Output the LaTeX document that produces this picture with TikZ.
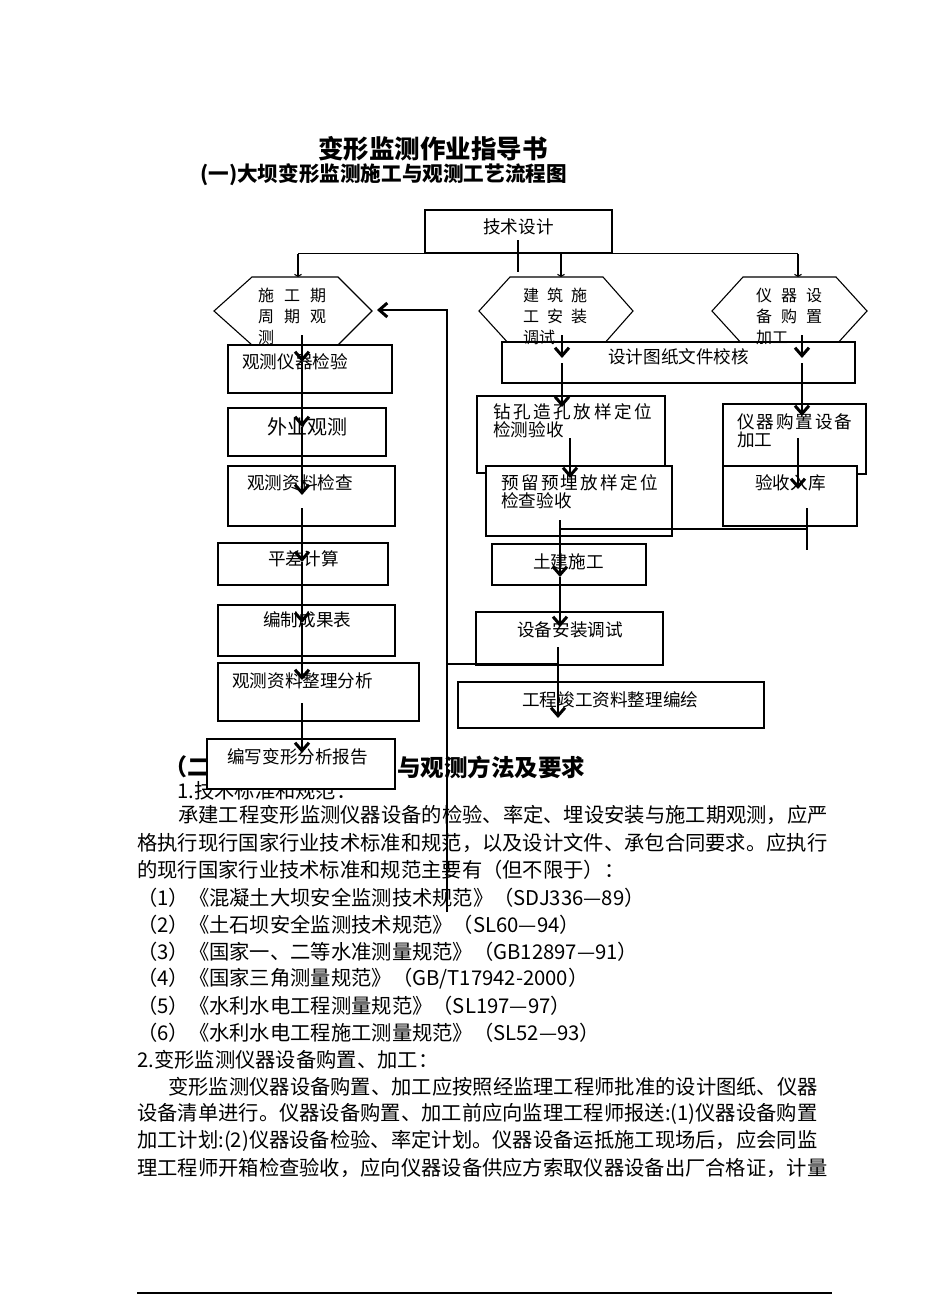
\documentclass[tikz,border=0pt]{standalone}
\usepackage{fontspec}
\setmainfont{Noto Sans CJK SC}
\usetikzlibrary{arrows.meta}

\tikzset{
  box/.style={draw, fill=white, line width=1.1pt, inner sep=0},
  hexa/.style={draw, fill=white, line width=1.1pt},
  lbl/.style={anchor=west, inner sep=0, font=\fontsize{17.6}{18}\selectfont},
  lbl2/.style={anchor=north west, inner sep=0, align=left, font=\fontsize{17.6}{18}\selectfont},
  hexlbl/.style={anchor=north west, inner sep=0, align=left, font=\fontsize{16}{21}\selectfont},
  body/.style={anchor=west, inner sep=0, font=\fontsize{20.3}{27}\selectfont},
  link/.style={line width=1.1pt},
  flow/.style={line width=1.1pt, -{Straight Barb[length=8pt,width=14pt,line width=3pt]}},
  tinyflow/.style={line width=1.1pt, -{Straight Barb[length=2pt,width=7pt]}},
}

\begin{document}
\begin{tikzpicture}[x=1pt,y=-1pt]
  \fill[white] (0,0) rectangle (950,1316);
  \useasboundingbox (0,0) rectangle (950,1316);

  % headings
  \node[inner sep=0, font=\bfseries\fontsize{25.5}{26}\selectfont] (title) at (433,149) {变形监测作业指导书};
  \node[anchor=west, inner sep=0, font=\bfseries\fontsize{20.6}{21}\selectfont] (subtitle) at (200,175) {(一)大坝变形监测施工与观测工艺流程图};

  % text of section two, partly hidden by the last box
  \node[anchor=west, inner sep=0, font=\bfseries\fontsize{23}{24}\selectfont] (h2a) at (164,767) {（二};
  \node[anchor=west, inner sep=0, font=\bfseries\fontsize{23.5}{24}\selectfont] (h2b) at (397,767) {与观测方法及要求};
  \node[body] (t0) at (177,791) {1.技术标准和规范：};
  \node[body] (t1) at (178,815) {承建工程变形监测仪器设备的检验、率定、埋设安装与施工期观测，应严};
  \node[body] (t2) at (137,843) {格执行现行国家行业技术标准和规范，以及设计文件、承包合同要求。应执行};
  \node[body] (t3) at (137,870) {的现行国家行业技术标准和规范主要有（但不限于）：};
  \node[body] (t4) at (137,898) {（1）《混凝土大坝安全监测技术规范》（SDJ336—89）};
  \node[body] (t5) at (137,925) {（2）《土石坝安全监测技术规范》（SL60—94）};
  \node[body] (t6) at (137,952) {（3）《国家一、二等水准测量规范》（GB12897—91）};
  \node[body] (t7) at (137,979) {（4）《国家三角测量规范》（GB/T17942-2000）};
  \node[body] (t8) at (137,1006) {（5）《水利水电工程测量规范》（SL197—97）};
  \node[body] (t9) at (137,1033) {（6）《水利水电工程施工测量规范》（SL52—93）};
  \node[body] (t10) at (137,1060) {2.变形监测仪器设备购置、加工：};
  \node[body] (t11) at (168,1087) {变形监测仪器设备购置、加工应按照经监理工程师批准的设计图纸、仪器};
  \node[body] (t12) at (137,1114) {设备清单进行。仪器设备购置、加工前应向监理工程师报送:(1)仪器设备购置};
  \node[body] (t13) at (137,1141) {加工计划:(2)仪器设备检验、率定计划。仪器设备运抵施工现场后，应会同监};
  \node[body] (t14) at (137,1168) {理工程师开箱检查验收，应向仪器设备供应方索取仪器设备出厂合格证，计量};
  \draw[line width=2pt] (137,1293) -- (832,1293);

  % hexagons
  \draw[hexa] (214,311) -- (252,277) -- (338,277) -- (372,311) -- (338,345) -- (252,345) -- cycle;
  \draw[hexa] (479,311) -- (510,277) -- (603,277) -- (633,311) -- (603,345) -- (510,345) -- cycle;
  \draw[hexa] (712,311) -- (743,277) -- (836,277) -- (867,311) -- (836,345) -- (743,345) -- cycle;

  % boxes
  \node[box, minimum width=187, minimum height=43] (sheji) at (518.5,231.5) {};
  \node[box, minimum width=164, minimum height=48] (b1) at (310,369) {};
  \node[box, minimum width=158, minimum height=48] (b2) at (307,432) {};
  \node[box, minimum width=167, minimum height=60] (b3) at (311.5,496) {};
  \node[box, minimum width=170, minimum height=42] (b4) at (303,564) {};
  \node[box, minimum width=177, minimum height=51] (b5) at (306.5,630.5) {};
  \node[box, minimum width=201, minimum height=58] (b6) at (318.5,692) {};
  \node[box, minimum width=188, minimum height=50] (b7) at (301,764) {};
  \node[box, minimum width=353, minimum height=41] (m0) at (678.5,362.5) {};
  \node[box, minimum width=188, minimum height=77] (m1) at (571,434.5) {};
  \node[box, minimum width=186, minimum height=70] (m2) at (579,501) {};
  \node[box, minimum width=143, minimum height=70] (r1) at (794.5,439) {};
  \node[box, minimum width=134, minimum height=60] (r2) at (790,496) {};
  \node[box, minimum width=154, minimum height=41] (m3) at (569,564.5) {};
  \node[box, minimum width=187, minimum height=53] (m4) at (569.5,638.5) {};
  \node[box, minimum width=306, minimum height=46] (m5) at (611,705) {};

  % labels
  \node[lbl] (shejit) at (483,227) {技术设计};
  \node[hexlbl] (hexLt) at (258,288) {施\hspace{10pt}工\hspace{10pt}期\\周\hspace{10pt}期\hspace{10pt}观\\测};
  \node[hexlbl] (hexMt) at (523,288) {建\hspace{8pt}筑\hspace{8pt}施\\工\hspace{8pt}安\hspace{8pt}装\\调试};
  \node[hexlbl] (hexRt) at (756,288) {仪\hspace{9pt}器\hspace{9pt}设\\备\hspace{9pt}购\hspace{9pt}置\\加工};
  \node[lbl] (b1t) at (242,362) {观测仪器检验};
  \node[lbl, font=\fontsize{20}{20}\selectfont] (b2t) at (267,427) {外业观测};
  \node[lbl] (b3t) at (247,483) {观测资料检查};
  \node[lbl] (b4t) at (268,559) {平差计算};
  \node[lbl] (b5t) at (263,620) {编制成果表};
  \node[lbl] (b6t) at (232,681) {观测资料整理分析};
  \node[lbl] (b7t) at (227,757) {编写变形分析报告};
  \node[lbl] (m0t) at (608,357) {设计图纸文件校核};
  \node[lbl2] (m1t) at (493,403.5) {\makebox[159pt][s]{钻\hfill 孔\hfill 造\hfill 孔\hfill 放\hfill 样\hfill 定\hfill 位}\\检测验收};
  \node[lbl2] (m2t) at (501,474.5) {\makebox[157pt][s]{预\hfill 留\hfill 预\hfill 埋\hfill 放\hfill 样\hfill 定\hfill 位}\\检查验收};
  \node[lbl2] (r1t) at (737,413.5) {\makebox[115pt][s]{仪\hfill 器\hfill 购\hfill 置\hfill 设\hfill 备}\\加工};
  \node[lbl] (r2t) at (755,483) {验收入库};
  \node[lbl] (m3t) at (533,562) {土建施工};
  \node[lbl] (m4t) at (517,630) {设备安装调试};
  \node[lbl] (m5t) at (522,700) {工程竣工资料整理编绘};

  % connector points
  \coordinate (hexLn) at (298,277);
  \coordinate (hexMn) at (561,277);
  \coordinate (hexRn) at (798,277);
  \coordinate (stubA) at (518,240);
  \coordinate (stubB) at (518,272);
  \coordinate (s0) at (302,335);
  \coordinate (s1) at (302,362);
  \coordinate (s2) at (302,427);
  \coordinate (s3) at (302,495);
  \coordinate (s3b) at (302,508);
  \coordinate (s4) at (302,562);
  \coordinate (s5) at (302,623);
  \coordinate (s6) at (302,680);
  \coordinate (s6b) at (302,703);
  \coordinate (s7) at (302,753);
  \coordinate (fb0) at (447,912);
  \coordinate (fb1) at (447,310);
  \coordinate (fb2) at (377,310);
  \coordinate (fbj) at (447,664);
  \coordinate (c0) at (562,335);
  \coordinate (c1) at (562,358);
  \coordinate (c1b) at (562,363);
  \coordinate (c2) at (562,407);
  \coordinate (c3a) at (570,438);
  \coordinate (c3) at (570,478);
  \coordinate (c4a) at (560,520);
  \coordinate (c4) at (560,577);
  \coordinate (c5) at (560,627);
  \coordinate (c5b) at (558,647);
  \coordinate (c6) at (558,718);
  \coordinate (cj) at (558,664);
  \coordinate (j1) at (560,529);
  \coordinate (j2) at (807,529);
  \coordinate (j3) at (807,508);
  \coordinate (j4) at (807,550);
  \coordinate (q0) at (802,335);
  \coordinate (q1) at (802,358);
  \coordinate (q1b) at (802,363);
  \coordinate (q2) at (802,416);
  \coordinate (q3a) at (798,438);
  \coordinate (q3) at (798,489);

  % top bus from the design box
  \draw[link] (sheji.south -| hexLn) -- (sheji.south -| hexRn);
  \draw[tinyflow] (sheji.south -| hexLn) -- (hexLn);
  \draw[tinyflow] (sheji.south -| hexMn) -- (hexMn);
  \draw[tinyflow] (sheji.south -| hexRn) -- (hexRn);
  \draw[link] (stubA) -- (stubB);

  % left column
  \draw[flow] (s0) -- (s1);
  \draw[flow] (s1) -- (s2);
  \draw[flow] (s2) -- (s3);
  \draw[flow] (s3b) -- (s4);
  \draw[flow] (s4) -- (s5);
  \draw[flow] (s5) -- (s6);
  \draw[flow] (s6b) -- (s7);

  % feedback line
  \draw[flow] (fb0) -- (fb1) -- (fb2);
  \draw[link] (fbj) -- (cj);

  % middle column
  \draw[flow] (c0) -- (c1);
  \draw[flow] (c1b) -- (c2);
  \draw[flow] (c3a) -- (c3);
  \draw[flow] (c4a) -- (c4);
  \draw[flow] (c4) -- (c5);
  \draw[flow] (c5b) -- (c6);
  \draw[link] (j1) -- (j2);
  \draw[link] (j3) -- (j4);

  % right column
  \draw[flow] (q0) -- (q1);
  \draw[flow] (q1b) -- (q2);
  \draw[flow] (q3a) -- (q3);
\end{tikzpicture}
\end{document}
